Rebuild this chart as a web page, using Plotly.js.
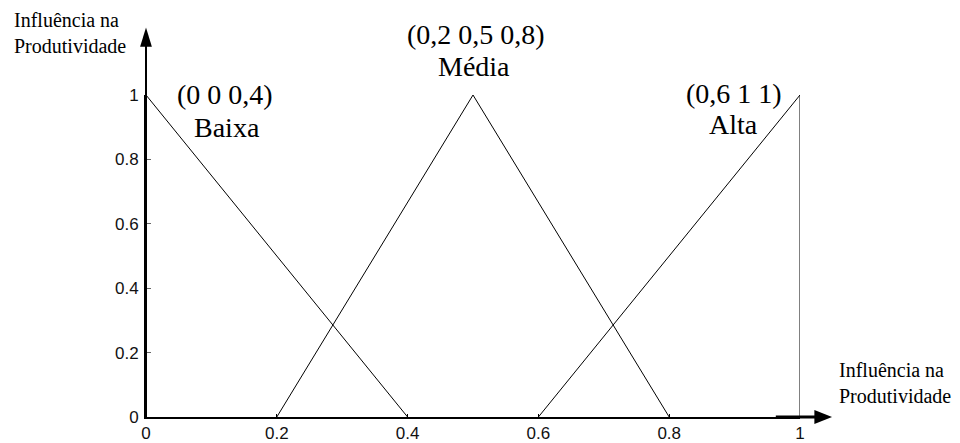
<!DOCTYPE html>
<html>
<head>
<meta charset="utf-8">
<script src="https://cdn.plot.ly/plotly-3.0.1.min.js"></script>
<style>
  html, body { margin: 0; padding: 0; background: #fff; }
  #chart { width: 960px; height: 443px; }
</style>
</head>
<body>
<div id="chart"></div>
<script>
// Fuzzy membership functions (triangular / trapezoidal)
const baixaX = [0, 0, 0.4];
const baixaY = [1, 1, 0];
const mediaX = [0.2, 0.5, 0.8];
const mediaY = [0, 1, 0];
const altaX = [0.6, 1, 1];
const altaY = [0, 1, 0];

const tickVals = [0, 0.2, 0.4, 0.6, 0.8, 1];
const tickText = ['0', '0.2', '0.4', '0.6', '0.8', '1'];

// Set parameters and names, placed above each membership function
const setLabels = [
  { x: 0.121, y: 1.003, text: '(0 0 0,4)' },
  { x: 0.124, y: 0.899, text: 'Baixa' },
  { x: 0.504, y: 1.189, text: '(0,2 0,5 0,8)' },
  { x: 0.502, y: 1.087, text: 'Média' },
  { x: 0.899, y: 1.006, text: '(0,6 1 1)' },
  { x: 0.899, y: 0.908, text: 'Alta' }
];

const axisTitle = 'Influência na<br>Produtividade';

const lineStyle = { color: '#000', width: 1 };
const traces = [
  { x: baixaX, y: baixaY, mode: 'lines', line: lineStyle, cliponaxis: false, hoverinfo: 'skip' },
  { x: mediaX, y: mediaY, mode: 'lines', line: lineStyle, cliponaxis: false, hoverinfo: 'skip' },
  { x: altaX, y: altaY, mode: 'lines', line: lineStyle, cliponaxis: false, hoverinfo: 'skip' }
];

const serif = '"Liberation Serif", "Times New Roman", Times, serif';
const sans = '"Liberation Sans", Arial, Helvetica, sans-serif';

const annotations = setLabels.map(l => ({
  x: l.x, y: l.y, xref: 'x', yref: 'paper', text: l.text, showarrow: false,
  font: { family: serif, size: 28, color: '#000' }, align: 'center',
  xanchor: 'center', yanchor: 'middle'
}));

// Axis titles (vertical axis at top-left, horizontal axis at bottom-right)
annotations.push({
  xref: 'paper', yref: 'paper', x: -0.205, y: 1.193, text: axisTitle,
  showarrow: false, xanchor: 'left', yanchor: 'middle', align: 'left',
  font: { family: serif, size: 20, color: '#000' }
});
annotations.push({
  xref: 'paper', yref: 'paper', x: 1.056, y: 0.105, text: axisTitle,
  showarrow: false, xanchor: 'left', yanchor: 'middle', align: 'left',
  font: { family: serif, size: 20, color: '#000' }
});

const shapes = [
  // extended vertical axis with arrowhead
  { type: 'line', xref: 'paper', yref: 'paper', x0: 0, x1: 0, y0: 0, y1: 1.16, line: { color: '#000', width: 2 } },
  { type: 'path', xref: 'paper', yref: 'paper', path: 'M -0.009 1.15 L 0.009 1.15 L 0 1.21 Z', fillcolor: '#000', line: { width: 0 } },
  // thick end of horizontal axis with arrowhead
  { type: 'line', xref: 'paper', yref: 'paper', x0: 0.963, x1: 1.03, y0: 0, y1: 0, line: { color: '#000', width: 3 } },
  { type: 'path', xref: 'paper', yref: 'paper', path: 'M 1.022 -0.022 L 1.022 0.022 L 1.049 0 Z', fillcolor: '#000', line: { width: 0 } }
];

const layout = {
  width: 960, height: 443,
  margin: { l: 146, r: 160, t: 95, b: 26 },
  paper_bgcolor: '#fff', plot_bgcolor: '#fff',
  showlegend: false,
  xaxis: {
    range: [0, 1], tickvals: tickVals, ticktext: tickText,
    showgrid: false, zeroline: false, showline: true, linecolor: '#000', linewidth: 2,
    ticks: 'inside', ticklen: 3, tickcolor: '#000', ticklabelstandoff: 0,
    tickfont: { family: sans, size: 17, color: '#111' }
  },
  yaxis: {
    range: [0, 1], tickvals: tickVals, ticktext: tickText,
    showgrid: false, zeroline: false, showline: true, linecolor: '#000', linewidth: 2,
    ticks: 'inside', ticklen: 5, tickcolor: '#666', ticklabelstandoff: 2,
    tickfont: { family: sans, size: 17, color: '#111' }
  },
  annotations: annotations,
  shapes: shapes
};

Plotly.newPlot('chart', traces, layout, { staticPlot: true, displayModeBar: false });
</script>
</body>
</html>
